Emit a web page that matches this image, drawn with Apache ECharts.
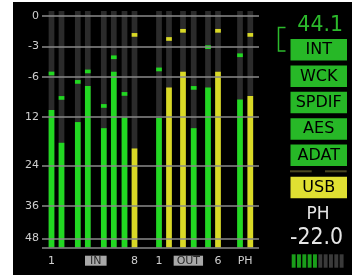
<!DOCTYPE html>
<html>
<head>
<meta charset="utf-8">
<script src="https://cdn.jsdelivr.net/npm/echarts@6/dist/echarts.min.js"></script>
<style>
  html, body { margin: 0; padding: 0; background: #fff; }
  #chart { width: 352px; height: 278px; }
</style>
</head>
<body>
<div id="chart"></div>
<script>
// meter readings, dBFS
const channels = ['IN 1', 'IN 2', 'IN 3', 'IN 4', 'IN 5', 'IN 6', 'IN 7', 'IN 8',
  'OUT 1', 'OUT 2', 'OUT 3', 'OUT 4', 'OUT 5', 'OUT 6', 'PH L', 'PH R']
const levels = [-11.0, -18.4, -13.3, -7.4, -14.8, -5.5, -12.2, -19.8,
  -12.3, -7.6, -5.5, -14.8, -7.6, -5.5, -9.4, -8.9]
const peaks = [-5.5, -8.9, -6.5, -5.3, -10.1, -3.9, -8.3, -1.7,
  -5.1, -2.1, -1.3, -7.4, -2.9, -1.3, -3.7, -1.7]

// meter scale marks
const scaleDb = [0, -3, -6, -12, -24, -36, -48]
const scaleLabels = ['0', '-3', '-6', '12', '24', '36', '48']

// bottom labels and the channel (index) they sit under
const bottomLabels = ['1', 'IN', '8', '1', 'OUT', '6', 'PH']
const bottomAt = [0, 3.5, 7, 8, 10.5, 13, 14.5]
const bottomBoxed = [false, true, false, false, true, false, false]

// side panel
const sampleRate = '44.1'
const clockSources = ['INT', 'WCK', 'SPDIF', 'AES', 'ADAT']
const usbLabel = 'USB'
const phonesName = 'PH'
const phonesLevel = '-22.0'
const phonesLit = 5
const phonesSegs = 10

// ---- layout / style ----
const meterPos = [4.7, 35.3, 65.7, 105.8, 154.5, 195, 227.3] // scale marks on the meter
const meterLen = 236.5
const chX = [9.5, 19.5, 35.8, 45.8, 61.8, 71.8, 82.5, 92.5,
  117, 127, 141, 151.7, 166, 176, 198, 208.3]
const GREEN = '#22d822'
const YELLOW = '#d9d926'
const meterColor = [GREEN, GREEN, GREEN, GREEN, GREEN, GREEN, GREEN, YELLOW,
  GREEN, YELLOW, YELLOW, GREEN, GREEN, YELLOW, GREEN, YELLOW]

function dbToPos(db) {
  for (let i = 0; i < scaleDb.length - 1; i++) {
    const a = scaleDb[i], b = scaleDb[i + 1]
    if (db <= a && db >= b) {
      return meterPos[i] + (a - db) / (a - b) * (meterPos[i + 1] - meterPos[i])
    }
  }
  return db > 0 ? meterPos[0] : meterLen
}

const meterData = channels.map((c, i) => [chX[i], dbToPos(levels[i]), dbToPos(peaks[i]), i])

const chart = echarts.init(document.getElementById('chart'))

const panel = []
panel.push({ type: 'rect', shape: { x: 13, y: 2, width: 339, height: 273 }, style: { fill: '#000' }, z: -10 })
panel.push({
  type: 'text', style: {
    text: sampleRate, x: 343, y: 26, textAlign: 'right', textVerticalAlign: 'middle',
    fill: '#2cba2c', font: '20.5px "DejaVu Sans"'
  }
})
panel.push({
  type: 'polyline', shape: { points: [[285.5, 27.5], [278.5, 27.5], [278.5, 51], [285.5, 51]] },
  style: { stroke: '#2cba2c', lineWidth: 1.5, fill: null }
})
clockSources.forEach((s, i) => {
  const top = 39 + i * 26.4
  panel.push({ type: 'rect', shape: { x: 290.5, y: top, width: 56.5, height: 21.5 }, style: { fill: '#27b827' } })
  panel.push({
    type: 'text', style: {
      text: s, x: 318.7, y: top + 11, textAlign: 'center', textVerticalAlign: 'middle',
      fill: '#000', font: '16px "DejaVu Sans"'
    }
  })
})
panel.push({ type: 'rect', shape: { x: 290, y: 170.3, width: 21.7, height: 2 }, style: { fill: '#4a4720' } })
panel.push({ type: 'rect', shape: { x: 325, y: 170.3, width: 21.7, height: 2 }, style: { fill: '#4a4720' } })
panel.push({ type: 'rect', shape: { x: 290.5, y: 176.7, width: 56.5, height: 21.6 }, style: { fill: '#e0e032' } })
panel.push({
  type: 'text', style: {
    text: usbLabel, x: 318.7, y: 188, textAlign: 'center', textVerticalAlign: 'middle',
    fill: '#000', font: '16px "DejaVu Sans"'
  }
})
panel.push({
  type: 'text', style: {
    text: phonesName, x: 318, y: 214.5, textAlign: 'center', textVerticalAlign: 'middle',
    fill: '#e6e6e6', font: '17px "DejaVu Sans"'
  }
})
panel.push({
  type: 'text', x: 316.5, y: 237.5, scaleY: 1.15, style: {
    text: phonesLevel, x: 0, y: 0, textAlign: 'center', textVerticalAlign: 'middle',
    fill: '#e6e6e6', font: '20.5px "DejaVu Sans"'
  }
})
for (let i = 0; i < phonesSegs; i++) {
  panel.push({
    type: 'rect', shape: { x: 291.7 + i * 5.33, y: 254.3, width: 3.9, height: 13.4 },
    style: { fill: i < phonesLit ? '#1a9e1a' : '#3a3a3a' }
  })
}

chart.setOption({
  animation: false,
  backgroundColor: '#fff',
  grid: { left: 42, top: 11, width: 217, height: meterLen },
  xAxis: { type: 'value', min: 0, max: 217, show: false },
  yAxis: { type: 'value', min: 0, max: meterLen, inverse: true, show: false },
  graphic: panel,
  series: [
    {
      type: 'line',
      data: [],
      z: 1,
      markLine: {
        silent: true,
        symbol: ['none', 'none'],
        lineStyle: { color: '#8a8a8a', width: 1.5, type: 'solid' },
        label: {
          position: 'start', formatter: '{b}', color: '#cfcfcf', distance: 3,
          fontSize: 11, fontFamily: 'DejaVu Sans'
        },
        data: meterPos.map((p, i) => ({ yAxis: p, name: scaleLabels[i] }))
          .concat([{ yAxis: meterLen, name: '', label: { show: false } }])
      }
    },
    {
      type: 'custom',
      z: 2,
      data: meterData,
      encode: { x: 0, y: 1 },
      renderItem(params, api) {
        const x = api.value(0)
        const top = api.coord([x, 0])
        const bot = api.coord([x, meterLen])
        const lv = api.coord([x, api.value(1)])
        const pk = api.coord([x, api.value(2)])
        const col = meterColor[api.value(3)]
        const w = 5.7
        const left = top[0] - w / 2
        return {
          type: 'group',
          children: [
            { type: 'rect', shape: { x: left, y: top[1], width: w, height: bot[1] - top[1] }, style: { fill: '#2b2b2b' } },
            { type: 'rect', shape: { x: left, y: lv[1], width: w, height: bot[1] - lv[1] }, style: { fill: col } },
            { type: 'rect', shape: { x: left, y: pk[1], width: w, height: 3.7 }, style: { fill: col } }
          ]
        }
      }
    }
  ]
})

// labels under the meters
const under = []
bottomLabels.forEach((t, i) => {
  const k = bottomAt[i]
  const lo = Math.floor(k), hi = Math.ceil(k)
  const xv = chX[lo] + (chX[hi] - chX[lo]) * (k - lo)
  const px = chart.convertToPixel({ gridIndex: 0 }, [xv, 0])[0]
  if (bottomBoxed[i]) {
    const w = t.length * 7.8 + 6
    under.push({ type: 'rect', shape: { x: px - w / 2, y: 255.7, width: w, height: 10 }, style: { fill: '#a8a8a8' } })
  }
  under.push({
    type: 'text', style: {
      text: t, x: px, y: 261, textAlign: 'center', textVerticalAlign: 'middle',
      fill: bottomBoxed[i] ? '#2a2a2a' : '#cfcfcf', font: '11px "DejaVu Sans"'
    }
  })
})
chart.setOption({ graphic: panel.concat(under) })
</script>
</body>
</html>
